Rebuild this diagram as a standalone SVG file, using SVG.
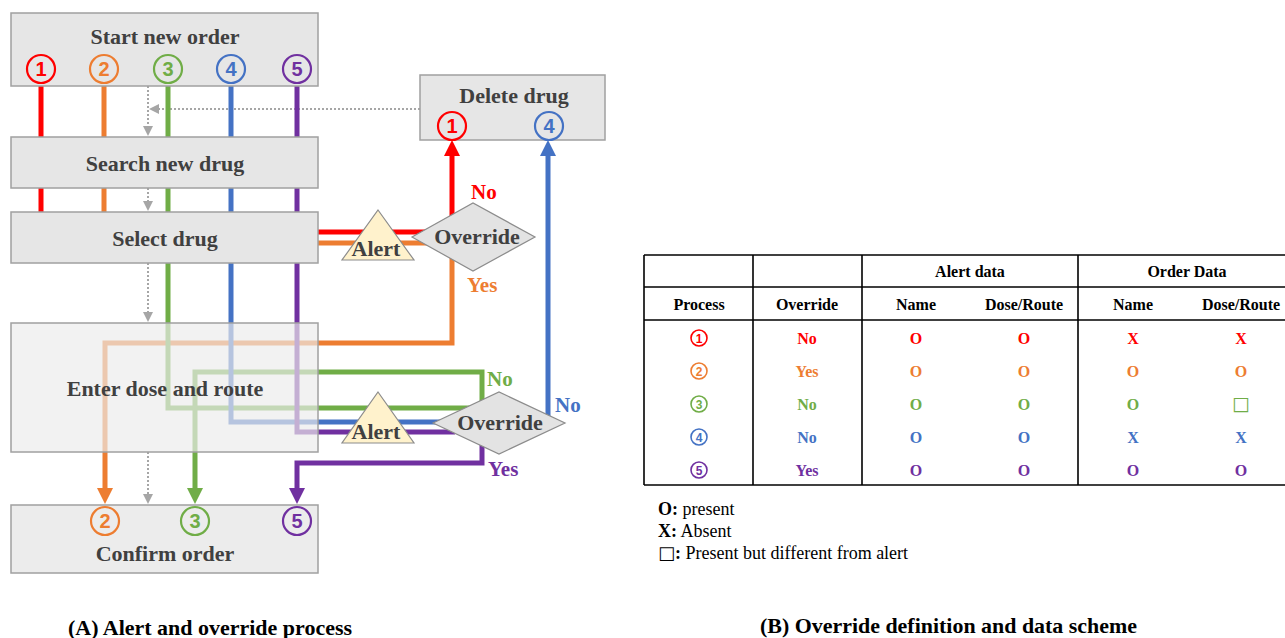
<svg xmlns="http://www.w3.org/2000/svg" width="1285" height="638" viewBox="0 0 1285 638">
<style>
.box{fill:#e6e6e6;stroke:#a0a0a0;stroke-width:1.5}
.tbox{fill:#ececec;fill-opacity:0.68;stroke:#a0a0a0;stroke-width:1.5}
.lbl{font-family:"Liberation Serif",serif;font-weight:bold;font-size:22px;fill:#404040;text-anchor:middle}
.dia{fill:#e3e3e3;stroke:#8c8c8c;stroke-width:1.2}
.tri{fill:#fff2cc;stroke:#8c8c8c;stroke-width:1.2}
.ln{fill:none;stroke-width:5;stroke-linejoin:miter}
.dot{fill:none;stroke:#a6a6a6;stroke-width:2;stroke-dasharray:2 2}
.cn{fill:none;stroke-width:2.2}
.cd{font-family:"Liberation Sans",sans-serif;font-weight:bold;font-size:20px;text-anchor:middle}
.yn{font-family:"Liberation Serif",serif;font-weight:bold;font-size:21px}
.th{font-family:"Liberation Serif",serif;font-weight:bold;font-size:16px;fill:#000;text-anchor:middle}
.td{font-family:"Liberation Serif",serif;font-weight:bold;font-size:16px;text-anchor:middle}
.tl{stroke:#000;stroke-width:1.6}
.tcn{fill:none;stroke-width:1.6}
.tcd{font-family:"Liberation Sans",sans-serif;font-weight:bold;font-size:12px;text-anchor:middle}
.leg{font-family:"Liberation Serif",serif;font-size:18px;fill:#000}
.cap{font-family:"Liberation Serif",serif;font-weight:bold;font-size:21px;fill:#000}
</style>
<defs>
<marker id="aR" viewBox="0 0 16 16" refX="6" refY="8" markerWidth="16" markerHeight="16" markerUnits="userSpaceOnUse" orient="auto"><path d="M0,0 L16,8 L0,16 z" fill="#ff0000"/></marker>
<marker id="aO" viewBox="0 0 16 16" refX="6" refY="8" markerWidth="16" markerHeight="16" markerUnits="userSpaceOnUse" orient="auto"><path d="M0,0 L16,8 L0,16 z" fill="#ed7d31"/></marker>
<marker id="aG" viewBox="0 0 16 16" refX="6" refY="8" markerWidth="16" markerHeight="16" markerUnits="userSpaceOnUse" orient="auto"><path d="M0,0 L16,8 L0,16 z" fill="#70ad47"/></marker>
<marker id="aB" viewBox="0 0 16 16" refX="6" refY="8" markerWidth="16" markerHeight="16" markerUnits="userSpaceOnUse" orient="auto"><path d="M0,0 L16,8 L0,16 z" fill="#4472c4"/></marker>
<marker id="aP" viewBox="0 0 16 16" refX="6" refY="8" markerWidth="16" markerHeight="16" markerUnits="userSpaceOnUse" orient="auto"><path d="M0,0 L16,8 L0,16 z" fill="#7030a0"/></marker>
<marker id="aY" viewBox="0 0 10 10" refX="1" refY="5" markerWidth="10" markerHeight="10" markerUnits="userSpaceOnUse" orient="auto"><path d="M0,0 L10,5 L0,10 z" fill="#a6a6a6"/></marker>
</defs>

<g id="connectors">
  <path class="dot" d="M148 86 V127" marker-end="url(#aY)"/>
  <path class="dot" d="M420 109 H158" marker-end="url(#aY)"/>
  <path class="dot" d="M148 188 V202" marker-end="url(#aY)"/>
  <path class="dot" d="M148 263 V313" marker-end="url(#aY)"/>
  <path class="dot" d="M148 452 V495" marker-end="url(#aY)"/>
  <path class="ln" stroke="#ff0000" d="M41 86 V232 H452 V150" marker-end="url(#aR)"/>
  <path class="ln" stroke="#ed7d31" d="M104 86 V243 H452 V343 H105 V494" marker-end="url(#aO)"/>
  <path class="ln" stroke="#70ad47" d="M168 86 V408 H470"/>
  <path class="ln" stroke="#70ad47" d="M482 405 V372 H195 V494" marker-end="url(#aG)"/>
  <path class="ln" stroke="#4472c4" d="M231 86 V422 H445"/>
  <path class="ln" stroke="#4472c4" d="M548 420 V150" marker-end="url(#aB)"/>
  <path class="ln" stroke="#7030a0" d="M297 86 V432 H455"/>
  <path class="ln" stroke="#7030a0" d="M482 440 V463 H297 V494" marker-end="url(#aP)"/>
</g>

<g id="start">
  <rect class="box" x="11" y="13" width="307" height="73"/>
  <text class="lbl" x="165" y="44">Start new order</text>
  <circle class="cn" stroke="#ff0000" cx="41" cy="69" r="14"/><text class="cd" fill="#ff0000" x="41" y="76">1</text>
  <circle class="cn" stroke="#ed7d31" cx="104" cy="69" r="14"/><text class="cd" fill="#ed7d31" x="104" y="76">2</text>
  <circle class="cn" stroke="#70ad47" cx="168" cy="69" r="14"/><text class="cd" fill="#70ad47" x="168" y="76">3</text>
  <circle class="cn" stroke="#4472c4" cx="231" cy="69" r="14"/><text class="cd" fill="#4472c4" x="231" y="76">4</text>
  <circle class="cn" stroke="#7030a0" cx="297" cy="69" r="14"/><text class="cd" fill="#7030a0" x="297" y="76">5</text>
</g>
<g id="search">
  <rect class="box" x="11" y="137" width="307" height="51"/>
  <text class="lbl" x="165" y="171">Search new drug</text>
</g>
<g id="select">
  <rect class="box" x="11" y="212" width="307" height="51"/>
  <text class="lbl" x="165" y="246">Select drug</text>
</g>
<g id="delete">
  <rect class="box" x="420" y="75" width="185" height="65"/>
  <text class="lbl" x="514" y="103">Delete drug</text>
  <circle class="cn" stroke="#ff0000" cx="452" cy="126" r="14"/><text class="cd" fill="#ff0000" x="452" y="133">1</text>
  <circle class="cn" stroke="#4472c4" cx="549" cy="126" r="14"/><text class="cd" fill="#4472c4" x="549" y="133">4</text>
</g>
<g id="enter">
  <rect class="tbox" x="11" y="323" width="307" height="129"/>
  <text class="lbl" x="165" y="396">Enter dose and route</text>
</g>
<g id="confirm">
  <rect class="box" x="11" y="505" width="307" height="68" style="fill:#ececec"/>
  <text class="lbl" x="165" y="561">Confirm order</text>
  <circle class="cn" stroke="#ed7d31" cx="105" cy="521" r="14"/><text class="cd" fill="#ed7d31" x="105" y="528">2</text>
  <circle class="cn" stroke="#70ad47" cx="195" cy="521" r="14"/><text class="cd" fill="#70ad47" x="195" y="528">3</text>
  <circle class="cn" stroke="#7030a0" cx="297" cy="521" r="14"/><text class="cd" fill="#7030a0" x="297" y="528">5</text>
</g>
<g id="alert1">
  <polygon class="tri" points="378,210 414,260 342,260"/>
  <text class="lbl" x="376" y="256">Alert</text>
</g>
<g id="override1">
  <polygon class="dia" points="412,237 473,203 535,237 473,271"/>
  <text class="lbl" x="477" y="244">Override</text>
</g>
<g id="alert2">
  <polygon class="tri" points="378,392 414,443 342,443"/>
  <text class="lbl" x="376" y="439">Alert</text>
</g>
<g id="override2">
  <polygon class="dia" points="433,423 499,392 565,423 499,454"/>
  <text class="lbl" x="500" y="430">Override</text>
</g>
<g id="labels">
  <text class="yn" fill="#ff0000" x="471" y="199">No</text>
  <text class="yn" fill="#ed7d31" x="467" y="292">Yes</text>
  <text class="yn" fill="#70ad47" x="487" y="386">No</text>
  <text class="yn" fill="#4472c4" x="555" y="412">No</text>
  <text class="yn" fill="#7030a0" x="488" y="476">Yes</text>
</g>

<g id="table">
  <line class="tl" x1="644" y1="255" x2="1285" y2="255"/>
  <line class="tl" x1="644" y1="287" x2="1285" y2="287"/>
  <line class="tl" x1="644" y1="320" x2="1285" y2="320"/>
  <line class="tl" x1="644" y1="485" x2="1285" y2="485"/>
  <line class="tl" x1="644" y1="255" x2="644" y2="485"/>
  <line class="tl" x1="753" y1="255" x2="753" y2="485"/>
  <line class="tl" x1="862" y1="255" x2="862" y2="485"/>
  <line class="tl" x1="1078" y1="255" x2="1078" y2="485"/>
  <text class="th" x="970" y="277">Alert data</text>
  <text class="th" x="1187" y="277">Order Data</text>
  <text class="th" x="699" y="310">Process</text>
  <text class="th" x="807" y="310">Override</text>
  <text class="th" x="916" y="310">Name</text>
  <text class="th" x="1024" y="310">Dose/Route</text>
  <text class="th" x="1133" y="310">Name</text>
  <text class="th" x="1241" y="310">Dose/Route</text>

  <circle class="tcn" stroke="#ff0000" cx="699" cy="338" r="8"/><text class="tcd" fill="#ff0000" x="699" y="342.5">1</text>
  <text class="td" fill="#ff0000" x="807" y="343.5">No</text>
  <text class="td" fill="#ff0000" x="916" y="343.5">O</text>
  <text class="td" fill="#ff0000" x="1024" y="343.5">O</text>
  <text class="td" fill="#ff0000" x="1133" y="343.5">X</text>
  <text class="td" fill="#ff0000" x="1241" y="343.5">X</text>

  <circle class="tcn" stroke="#ed7d31" cx="699" cy="371" r="8"/><text class="tcd" fill="#ed7d31" x="699" y="375.5">2</text>
  <text class="td" fill="#ed7d31" x="807" y="376.5">Yes</text>
  <text class="td" fill="#ed7d31" x="916" y="376.5">O</text>
  <text class="td" fill="#ed7d31" x="1024" y="376.5">O</text>
  <text class="td" fill="#ed7d31" x="1133" y="376.5">O</text>
  <text class="td" fill="#ed7d31" x="1241" y="376.5">O</text>

  <circle class="tcn" stroke="#70ad47" cx="699" cy="404" r="8"/><text class="tcd" fill="#70ad47" x="699" y="408.5">3</text>
  <text class="td" fill="#70ad47" x="807" y="409.5">No</text>
  <text class="td" fill="#70ad47" x="916" y="409.5">O</text>
  <text class="td" fill="#70ad47" x="1024" y="409.5">O</text>
  <text class="td" fill="#70ad47" x="1133" y="409.5">O</text>
  <text class="td" fill="#70ad47" x="1241" y="410" style="font-family:'DejaVu Sans',sans-serif;font-weight:bold;font-size:19px">□</text>

  <circle class="tcn" stroke="#4472c4" cx="699" cy="437" r="8"/><text class="tcd" fill="#4472c4" x="699" y="441.5">4</text>
  <text class="td" fill="#4472c4" x="807" y="442.5">No</text>
  <text class="td" fill="#4472c4" x="916" y="442.5">O</text>
  <text class="td" fill="#4472c4" x="1024" y="442.5">O</text>
  <text class="td" fill="#4472c4" x="1133" y="442.5">X</text>
  <text class="td" fill="#4472c4" x="1241" y="442.5">X</text>

  <circle class="tcn" stroke="#7030a0" cx="699" cy="470" r="8"/><text class="tcd" fill="#7030a0" x="699" y="474.5">5</text>
  <text class="td" fill="#7030a0" x="807" y="475.5">Yes</text>
  <text class="td" fill="#7030a0" x="916" y="475.5">O</text>
  <text class="td" fill="#7030a0" x="1024" y="475.5">O</text>
  <text class="td" fill="#7030a0" x="1133" y="475.5">O</text>
  <text class="td" fill="#7030a0" x="1241" y="475.5">O</text>
</g>

<g id="legend">
  <text class="leg" x="658" y="515"><tspan font-weight="bold">O:</tspan> present</text>
  <text class="leg" x="658" y="537"><tspan font-weight="bold">X:</tspan> Absent</text>
  <text class="leg" x="658" y="559"><tspan font-weight="bold" style="font-family:'DejaVu Sans',sans-serif">□</tspan><tspan font-weight="bold">:</tspan> Present but different from alert</text>
</g>

<g id="captions">
  <text class="cap" x="68" y="635" textLength="284" lengthAdjust="spacingAndGlyphs">(A) Alert and override process</text>
  <text class="cap" x="760" y="633" textLength="377" lengthAdjust="spacingAndGlyphs">(B) Override definition and data scheme</text>
</g>
</svg>
